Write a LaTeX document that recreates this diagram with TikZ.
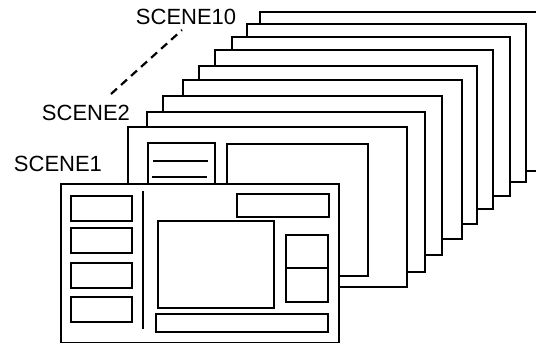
\documentclass[tikz,border=0pt]{standalone}
\usepackage{fontspec}
\setmainfont{Liberation Sans}
\begin{document}
\begin{tikzpicture}[x=1pt,y=-1pt,line width=1.9pt,
  frame/.style={draw=black,fill=white},
  box/.style={draw=black},
  lbl/.style={font=\fontsize{22}{26}\selectfont,inner sep=0pt,anchor=base west}]
\useasboundingbox (0,0) rectangle (536,344);
\clip (-1,-1) rectangle (537,345);
% back frames (scene 10 ... scene 3)
\draw[frame] (260,12) rectangle (545,171);
\draw[frame] (247,24) rectangle (526,182);
\draw[frame] (232,37) rectangle (510,196);
\draw[frame] (215,50) rectangle (493,209);
\draw[frame] (199,66) rectangle (477,224);
\draw[frame] (183,80) rectangle (462,239);
\draw[frame] (163,96) rectangle (442,255);
\draw[frame] (147,112) rectangle (425,272);
% scene 2
\draw[frame] (128,127) rectangle (407,287);
\draw[box] (148,143) rectangle (215,195);
\draw (153,161) -- (208,161);
\draw (152,177) -- (207,177);
\draw[box] (227,144) rectangle (368,276);
% scene 1
\draw[frame] (61,184) rectangle (339,342.5);
\draw[box] (71,196) rectangle (132,221);
\draw[box] (71,228) rectangle (132,253);
\draw[box] (71,263) rectangle (132,288);
\draw[box] (71,297) rectangle (132,322);
\draw (143,191) -- (143,329);
\draw[box] (237,194) rectangle (329,217);
\draw[box] (158,221) rectangle (274,308);
\draw[box] (286,235) rectangle (328,302);
\draw (286,268) -- (328,268);
\draw[box] (156,314) rectangle (328,332);
% labels
\node[lbl] (s10) at (135,25) {SCENE10};
\node[lbl] (s2) at (41,121) {SCENE2};
\node[lbl] (s1) at (13,172) {SCENE1};
\coordinate (d1) at (111,94);
\coordinate (d2) at (182,30);
\draw[line width=2.2pt,dash pattern=on 8pt off 5.5pt] (d1) -- (d2);
\end{tikzpicture}
\end{document}
